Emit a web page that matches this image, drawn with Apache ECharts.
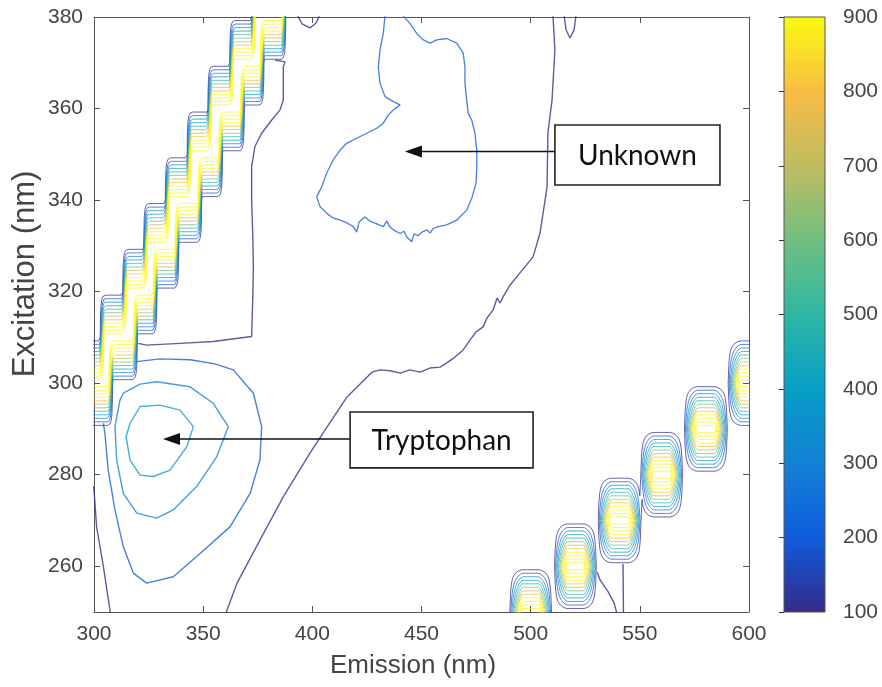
<!DOCTYPE html>
<html>
<head>
<meta charset="utf-8">
<script src="https://cdn.jsdelivr.net/npm/echarts@6/dist/echarts.min.js"></script>
<style>
  html, body { margin: 0; padding: 0; background: #ffffff; }
  #chart { width: 882px; height: 687px; }
</style>
</head>
<body>
<div id="chart"></div>
<script>
// ---- axes ----
const emissionTicks = [300, 350, 400, 450, 500, 550, 600];
const excitationTicks = [260, 280, 300, 320, 340, 360, 380];
const colorbarTicks = [100, 200, 300, 400, 500, 600, 700, 800, 900];
const emissionTitle = 'Emission (nm)';
const excitationTitle = 'Excitation (nm)';

// ---- contour levels (colour scale saturates at 900) ----
const contourLevels = [100, 200, 300, 400, 500, 600, 700, 800, 900, 1000, 1100, 1200];
const scatterPeak = 1300;

// excitation rows of the measurement
const excitationRows = [240, 250, 260, 270, 280, 290, 300, 310, 320, 330, 340, 350, 360, 370, 380, 390];

// first-order Rayleigh scatter ridge: emission span per excitation row
const rayleighEx   = [300, 310, 320, 330, 340, 350, 360, 370, 380];
const rayleighFrom = [292.5, 302.7, 313.0, 322.6, 332.5, 342.5, 352.0, 362.0, 372.0];
const rayleighTo   = [308.7, 320.0, 329.0, 339.0, 349.5, 359.0, 369.0, 378.0, 388.0];

// second-order Rayleigh scatter ridge
const rayleigh2Ex   = [250, 260, 270, 280, 290, 300];
const rayleigh2From = [490.0, 510.5, 530.5, 550.0, 570.0, 590.0];
const rayleigh2To   = [510.0, 530.5, 551.0, 570.0, 590.5, 610.0];

// ---- fluorescence contours [emission, excitation] ----
const tryptophanLevels = [200, 300, 400];
const tryptophan200 = [[319.6,304.7],[330.2,305.3],[344.0,305.1],[355.4,304.2],[363.8,302.9],[373.0,297.8],[376.8,290.5],[376.0,283.2],[371.5,275.9],[362.3,268.6],[348.6,262.8],[336.3,257.7],[324.1,256.3],[318.0,258.5],[313.4,264.3],[309.6,272.3],[306.5,281.0],[305.0,289.0],[304.3,291.2]];
const tryptophan300 = [[313.4,297.8],[321.1,299.8],[328.7,300.3],[344.0,299.2],[354.6,295.6],[361.5,290.5],[356.2,283.9],[347.0,277.4],[336.3,272.3],[328.7,270.5],[319.6,271.6],[313.4,275.9],[310.4,283.2],[309.6,290.5],[311.9,296.3],[313.4,297.8]];
const tryptophan400 = [[316.5,291.2],[321.1,294.9],[330.2,295.2],[339.4,294.1],[345.5,290.5],[342.5,286.1],[334.8,281.0],[327.2,279.6],[321.1,279.9],[316.5,283.2],[314.7,288.3],[316.5,291.2]];

const unknownLevel = 200;
const unknown200 = [[433.3,380.5],[432.5,376.4],[431.0,372.8],[430.2,369.1],[431.0,365.5],[433.3,362.6],[437.1,361.5],[440.2,360.8],[437.1,359.7],[434.8,358.6],[432.5,356.8],[429.5,355.7],[424.9,354.6],[420.3,353.5],[415.7,352.4],[412.7,350.9],[409.6,348.8],[406.6,345.9],[404.3,342.9],[402.0,340.7],[403.5,338.6],[406.6,337.1],[409.5,336.1],[412.7,335.6],[415.9,335.0],[418.8,334.2],[420.3,333.0],[421.4,335.2],[424.1,336.3],[426.4,335.4],[429.6,334.8],[432.5,334.2],[434.1,335.4],[435.6,334.1],[437.1,333.5],[440.2,332.7],[442.0,333.2],[443.2,332.0],[445.5,330.9],[446.6,332.6],[448.4,332.2],[450.2,333.0],[452.4,333.5],[453.9,332.8],[455.4,333.8],[458.5,334.3],[461.5,334.6],[466.1,335.6],[470.7,337.8],[473.1,340.5],[475.0,343.7],[475.3,347.3],[475.3,350.9],[474.5,354.6],[473.0,357.5],[471.4,359.0],[470.7,361.9],[469.9,365.5],[469.9,369.1],[469.1,372.1],[466.1,374.3],[461.5,375.3],[457.0,375.0],[453.9,374.3],[450.8,375.0],[447.8,376.4],[444.7,378.6],[441.1,380.5]];

const backgroundLevel = 100;
const background100 = [
  [[299.5,277.5],[300.0,276.7],[301.2,268.6],[304.3,259.9],[307.3,250.4],[307.5,249.5]],
  [[510.2,380.5],[511.1,372.8],[509.8,361.9],[507.9,354.7],[507.5,342.9],[504.3,332.8],[501.1,327.6],[495.1,324.1],[490.5,321.4],[487.3,318.8],[486.0,317.5],[484.6,318.6],[482.8,316.0],[480.0,314.2],[478.2,312.3],[475.0,311.2],[472.2,309.4],[469.0,307.2],[465.3,305.7],[462.1,304.6],[458.5,303.5],[453.9,303.3],[449.3,302.4],[444.7,302.9],[440.2,302.2],[435.6,302.7],[431.0,302.9],[427.3,302.4],[425.0,301.3],[415.9,297.0],[406.7,290.4],[398.9,284.7],[386.6,275.1],[376.0,265.7],[365.5,256.3],[360.9,250.4],[360.5,249.5]],
  [[320.3,308.7],[324.1,308.3],[339.4,308.7],[354.6,309.1],[372.2,310.2],[372.7,318.2],[373.0,325.4],[372.7,332.7],[372.2,340.0],[372.2,347.3],[373.7,351.7],[376.8,354.6],[381.4,357.5],[385.2,359.7],[386.7,361.9],[386.7,369.1],[387.5,370.2],[382.9,370.6]],
  [[393.0,380.5],[395.3,378.5],[398.9,377.6],[401.7,378.7],[403.5,380.5]],
  [[515.3,380.5],[516.2,377.2],[518.0,375.4],[519.9,377.2],[520.8,380.5]],
  [[530.5,258.7],[531.8,257.0],[535.5,254.4],[538.2,252.0],[539.6,249.5]],
  [[542.3,260.5],[542.5,249.5]]
];

// ---- annotations ----
const annotationText  = ['Unknown', 'Tryptophan'];
const annotationTipEm = [442.4, 331.6];
const annotationTipEx = [350.6, 287.8];
const annotationBoxEm = [[511.1, 586.7], [417.3, 501.1]];
const annotationBoxEx = [[343.3, 356.4], [281.5, 293.7]];

// ---- parula colour map over the colour-bar range ----
const parulaStops = ['#352a87', '#0f5cdd', '#1481d6', '#069ec6', '#2eb7a4', '#71bf80', '#c0bc60', '#fabc44', '#f9fb0e'];
function hexToRgb(h) { return [1, 3, 5].map(i => parseInt(h.substr(i, 2), 16)); }
function levelColor(v) {
  const lo = colorbarTicks[0], hi = colorbarTicks[colorbarTicks.length - 1];
  let t = Math.min(1, Math.max(0, (v - lo) / (hi - lo))) * (parulaStops.length - 1);
  const i = Math.min(parulaStops.length - 2, Math.floor(t));
  const f = t - i;
  const a = hexToRgb(parulaStops[i]), b = hexToRgb(parulaStops[i + 1]);
  const c = a.map((x, k) => Math.round(x + (b[k] - x) * f));
  return 'rgb(' + c.join(',') + ')';
}

// ---- scatter intensity surface on the excitation rows ----
const emStep = 0.25, emStart = 286, emEnd = 616;
const emColumns = [];
for (let x = emStart; x <= emEnd + 1e-9; x += emStep) emColumns.push(+x.toFixed(3));

function ridgeValue(x, from, to, ramp) {
  const d = Math.min(x - from, to - x) / ramp;
  return scatterPeak * Math.max(0, Math.min(1, d));
}
const ridges = [
  { ex: rayleighEx, from: rayleighFrom, to: rayleighTo, ramp: 2.0 },
  { ex: rayleigh2Ex, from: rayleigh2From, to: rayleigh2To, ramp: 6.0 }
];
const surface = excitationRows.map(e => emColumns.map(x => {
  let v = 0;
  ridges.forEach(r => {
    const k = r.ex.indexOf(e);
    if (k >= 0) v = Math.max(v, ridgeValue(x, r.from[k], r.to[k], r.ramp));
  });
  return v;
}));

// marching squares: line segments of one level
function contourSegments(xs, ys, grid, level) {
  const out = [];
  for (let r = 0; r < ys.length - 1; r++) {
    const y0 = ys[r], y1 = ys[r + 1], g0 = grid[r], g1 = grid[r + 1];
    for (let c = 0; c < xs.length - 1; c++) {
      const a = g0[c], b = g0[c + 1], d = g1[c], e = g1[c + 1];
      const ia = a >= level, ib = b >= level, id = d >= level, ie = e >= level;
      if (ia === ib && ib === id && id === ie) continue;
      const x0 = xs[c], x1 = xs[c + 1];
      const lerp = (p, q, vp, vq) => p + (q - p) * (level - vp) / (vq - vp);
      const pts = {};
      if (ia !== ib) pts.bottom = [lerp(x0, x1, a, b), y0];
      if (ib !== ie) pts.right = [x1, lerp(y0, y1, b, e)];
      if (id !== ie) pts.top = [lerp(x0, x1, d, e), y1];
      if (ia !== id) pts.left = [x0, lerp(y0, y1, a, d)];
      const keys = Object.keys(pts);
      if (keys.length === 2) {
        out.push([pts[keys[0]], pts[keys[1]]]);
      } else if (keys.length === 4) {
        const centerHigh = (a + b + d + e) / 4 >= level;
        if (ia !== centerHigh) out.push([pts.bottom, pts.left]);
        if (ib !== centerHigh) out.push([pts.bottom, pts.right]);
        if (ie !== centerHigh) out.push([pts.right, pts.top]);
        if (id !== centerHigh) out.push([pts.top, pts.left]);
      }
    }
  }
  return out;
}

// join touching segments into polylines, separated by gaps
function segmentsToLineData(segs) {
  const data = [];
  let line = null;
  const same = (p, q) => p[0] === q[0] && p[1] === q[1];
  const flush = () => { if (line) { line.forEach(p => data.push(p)); data.push(['-', '-']); } };
  segs.forEach(s => {
    if (line) {
      const first = line[0], last = line[line.length - 1];
      if (same(s[0], last)) { line.push(s[1]); return; }
      if (same(s[1], last)) { line.push(s[0]); return; }
      if (same(s[0], first)) { line.unshift(s[1]); return; }
      if (same(s[1], first)) { line.unshift(s[0]); return; }
    }
    flush();
    line = [s[0], s[1]];
  });
  flush();
  return data;
}

const lineBase = {
  type: 'line', xAxisIndex: 0, yAxisIndex: 0, showSymbol: false, symbol: 'none',
  silent: true, animation: false, connectNulls: false, clip: true, z: 3
};

const series = [];
contourLevels.forEach(level => {
  series.push(Object.assign({}, lineBase, {
    name: 'scatter ' + level,
    data: segmentsToLineData(contourSegments(emColumns, excitationRows, surface, level)),
    lineStyle: { color: levelColor(level), width: 1, opacity: 0.75 }
  }));
});

function polylineSeries(points, level, width) {
  return Object.assign({}, lineBase, {
    data: points,
    lineStyle: { color: levelColor(level), width: width, opacity: 0.78 }
  });
}
background100.forEach(p => series.push(polylineSeries(p, backgroundLevel, 1.4)));
series.push(polylineSeries(unknown200, unknownLevel, 1.3));
[tryptophan200, tryptophan300, tryptophan400].forEach((p, i) => series.push(polylineSeries(p, tryptophanLevels[i], 1.4)));

// annotation boxes with arrows
series.push({
  type: 'custom', xAxisIndex: 0, yAxisIndex: 0, silent: true, animation: false, z: 10, clip: false,
  data: annotationText.map((t, i) => [annotationTipEm[i], annotationTipEx[i], annotationBoxEm[i][0], annotationBoxEm[i][1], annotationBoxEx[i][0], annotationBoxEx[i][1], i]),
  renderItem: function (params, api) {
    const tip = api.coord([api.value(0), api.value(1)]);
    const b0 = api.coord([api.value(2), api.value(4)]);
    const b1 = api.coord([api.value(3), api.value(5)]);
    const idx = api.value(6);
    const x = b0[0], y = b1[1], w = b1[0] - b0[0], h = b0[1] - b1[1];
    const headLen = 17, headHalf = 6;
    return {
      type: 'group',
      children: [
        { type: 'line', shape: { x1: x, y1: tip[1], x2: tip[0] + headLen - 2, y2: tip[1] },
          style: { stroke: '#111', lineWidth: 1.6 } },
        { type: 'polygon', shape: { points: [[tip[0], tip[1]], [tip[0] + headLen, tip[1] - headHalf], [tip[0] + headLen, tip[1] + headHalf]] },
          style: { fill: '#111' } },
        { type: 'rect', shape: { x: x, y: y, width: w, height: h },
          style: { fill: '#ffffff', stroke: '#222', lineWidth: 1.6 } },
        { type: 'text', x: x + w / 2, y: y + h / 2 + 1,
          style: { text: annotationText[idx], fill: '#111', font: '28px Lato, "Open Sans", sans-serif', align: 'center', verticalAlign: 'middle' } }
      ]
    };
  }
});

// colour bar
const colorbarStops = parulaStops.map((c, i) => ({ offset: i / (parulaStops.length - 1), color: c }));
series.push({
  type: 'custom', xAxisIndex: 2, yAxisIndex: 2, silent: true, animation: false, z: 2,
  data: [[0, colorbarTicks[0], 1, colorbarTicks[colorbarTicks.length - 1]]],
  renderItem: function (params, api) {
    const p0 = api.coord([api.value(0), api.value(1)]);
    const p1 = api.coord([api.value(2), api.value(3)]);
    return {
      type: 'rect',
      shape: { x: p0[0], y: p1[1], width: p1[0] - p0[0], height: p0[1] - p1[1] },
      style: { fill: new echarts.graphic.LinearGradient(0, 1, 0, 0, colorbarStops), stroke: '#555', lineWidth: 1 }
    };
  }
});

const axisGrey = '#555';
const titleColor = '#444';
const tickFont = { fontFamily: '"Liberation Sans", Arial, sans-serif', fontSize: 21, color: '#444' };

const option = {
  backgroundColor: '#ffffff',
  animation: false,
  grid: [
    { left: 94, top: 17, width: 655, height: 595, containLabel: false, outerBoundsMode: 'none' },
    { left: 784, top: 17, width: 41, height: 595, containLabel: false, outerBoundsMode: 'none' }
  ],
  // axis titles
  graphic: [
    { type: 'text', x: 413, y: 666, silent: true,
      style: { text: emissionTitle, font: '26px "Liberation Sans", Arial, sans-serif', fill: titleColor, align: 'center', verticalAlign: 'middle' } },
    { type: 'text', x: 25, y: 274, rotation: Math.PI / 2, silent: true,
      style: { text: excitationTitle, font: '31px "Liberation Sans", Arial, sans-serif', fill: titleColor, align: 'center', verticalAlign: 'middle' } }
  ],
  xAxis: [
    { type: 'value', gridIndex: 0, min: emissionTicks[0], max: emissionTicks[emissionTicks.length - 1], interval: 50,
      axisLine: { show: true, lineStyle: { color: axisGrey, width: 1 } },
      axisTick: { show: true, inside: true, length: 6, lineStyle: { color: axisGrey } },
      axisLabel: Object.assign({ margin: 12 }, tickFont),
      splitLine: { show: false } },
    { type: 'value', gridIndex: 0, position: 'top', min: emissionTicks[0], max: emissionTicks[emissionTicks.length - 1], interval: 50,
      axisLine: { show: true, lineStyle: { color: axisGrey, width: 1 } },
      axisTick: { show: true, inside: true, length: 6, lineStyle: { color: axisGrey } },
      axisLabel: { show: false }, splitLine: { show: false } },
    { type: 'value', gridIndex: 1, min: 0, max: 1, show: false }
  ],
  yAxis: [
    { type: 'value', gridIndex: 0, min: 250, max: 380,
      axisLine: { show: true, lineStyle: { color: axisGrey, width: 1 } },
      axisTick: { show: true, inside: true, length: 6, customValues: excitationTicks, lineStyle: { color: axisGrey } },
      axisLabel: Object.assign({ margin: 11, customValues: excitationTicks }, tickFont),
      splitLine: { show: false } },
    { type: 'value', gridIndex: 0, position: 'right', min: 250, max: 380,
      axisLine: { show: true, lineStyle: { color: axisGrey, width: 1 } },
      axisTick: { show: true, inside: true, length: 6, customValues: excitationTicks, lineStyle: { color: axisGrey } },
      axisLabel: { show: false }, splitLine: { show: false } },
    { type: 'value', gridIndex: 1, position: 'right', min: colorbarTicks[0], max: colorbarTicks[colorbarTicks.length - 1], interval: 100,
      axisLine: { show: true, lineStyle: { color: axisGrey, width: 1 } },
      axisTick: { show: true, inside: true, length: 5, lineStyle: { color: '#333' } },
      axisLabel: Object.assign({ margin: 18 }, tickFont, { fontSize: 21 }),
      splitLine: { show: false } }
  ],
  series: series
};

const chart = echarts.init(document.getElementById('chart'), null, { renderer: 'canvas' });
chart.setOption(option);
</script>
</body>
</html>
